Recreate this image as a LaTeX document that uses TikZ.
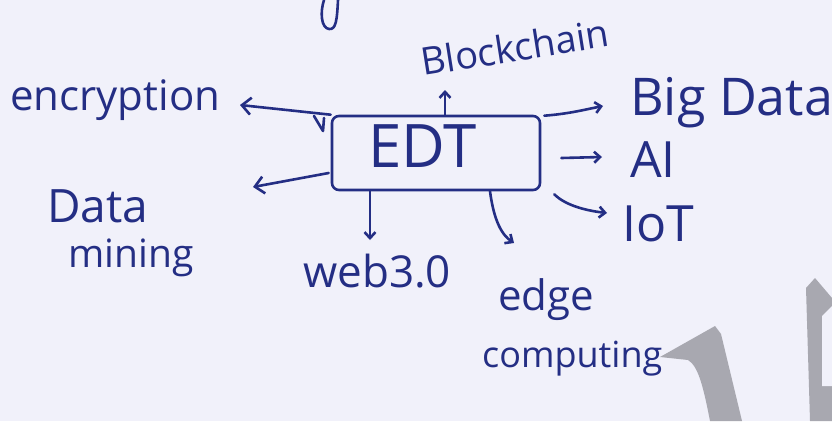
\documentclass[tikz,border=0pt]{standalone}
\usepackage{fontspec}
\setmainfont{Open Sans}
\usetikzlibrary{arrows.meta}
\definecolor{paper}{RGB}{241,241,250}
\definecolor{ink}{RGB}{36,46,132}
\definecolor{wm}{RGB}{168,168,176}
\newcommand\hwsz[1]{\fontsize{#1}{#1}\selectfont}
\begin{document}
\begin{tikzpicture}[x=1pt,y=-1pt,
  inkline/.style={draw=ink, line width=2.6pt, line cap=round, line join=round},
  arr/.style={inkline, -{Straight Barb[length=9pt,width=17pt]}},
  sarr/.style={inkline, -{Straight Barb[length=6pt,width=11pt]}},
  hand/.style={text=ink, inner sep=0pt, anchor=base west},
  box/.style={inkline, minimum width=208pt, minimum height=74pt, rounded corners=7pt, inner sep=0pt}]
\fill[paper] (0,0) rectangle (832,421);
\useasboundingbox (0,0) rectangle (832,421);
% watermark
\fill[wm] (660,357) -- (715,326) -- (721,334) -- (742,421) -- (710,421) .. controls (703,385) and (698,366) .. (688,360) -- cycle;
\fill[wm] (806,288) -- (815,278) -- (832,298) -- (832,421) -- (810,421) -- cycle;
\fill[paper] (822,316) -- (832,306) -- (832,386) -- (822,386) -- cycle;
% stray stroke from line above
\draw[inkline] (338,0) .. controls (337,20) and (336,30) .. (329,29) .. controls (321,28) and (320,12) .. (324,0);
% central box
\node[box] (edt) at (436,153) {};
\node[hand, font={\hwsz{60}}] (edtl) at (368,167) {EDT};
\draw[inkline] (314,116) -- (323,131) -- (324,118);
% labels
\node[hand, font={\hwsz{42}}] (enc) at (10,110) {encryption};
\node[hand, font={\hwsz{38}}, rotate=9] (bc) at (423,76) {Blockchain};
\node[hand, font={\hwsz{52}}] (bd) at (630,115) {Big Data};
\node[hand, font={\hwsz{50}}] (ai) at (630,177) {AI};
\node[hand, font={\hwsz{50}}] (iot) at (622,241) {IoT};
\node[hand, font={\hwsz{46}}] (dm1) at (47,222) {Data};
\node[hand, font={\hwsz{39}}] (dm2) at (68,267) {mining};
\node[hand, font={\hwsz{44}}] (web) at (303,287) {web3.0};
\node[hand, font={\hwsz{42}}] (edge) at (498,310) {edge};
\node[hand, font={\hwsz{36}}] (comp) at (482,367) {computing};
% arrow tips
\coordinate (encTip) at (240,105);
\coordinate (bcTip) at (445,90);
\coordinate (bdTip) at (603,106);
\coordinate (aiTip) at (602,157);
\coordinate (iotTip) at (607,213);
\coordinate (dmTip) at (253,187);
\coordinate (webTip) at (370,240);
\coordinate (edgeTip) at (514,243);
% connectors
\draw[arr] (edt.north west) -- (encTip);
\draw[sarr] ([shift={(9,0)}]edt.north) -- (bcTip);
\draw[sarr] ([shift={(3,1)}]edt.north east) .. controls +(25,-2) and +(-20,4) .. (bdTip);
\draw[sarr] ([shift={(20,5)}]edt.east) -- (aiTip);
\draw[sarr] ([shift={(13,3)}]edt.south east) .. controls +(12,12) and +(-18,-2) .. (iotTip);
\draw[arr] ([shift={(-2,20)}]edt.west) -- (dmTip);
\draw[sarr] ([shift={(-66,0)}]edt.south) -- (webTip);
\draw[sarr] ([shift={(54,0)}]edt.south) .. controls +(4,30) and +(-12,-8) .. (edgeTip);
\end{tikzpicture}
\end{document}
